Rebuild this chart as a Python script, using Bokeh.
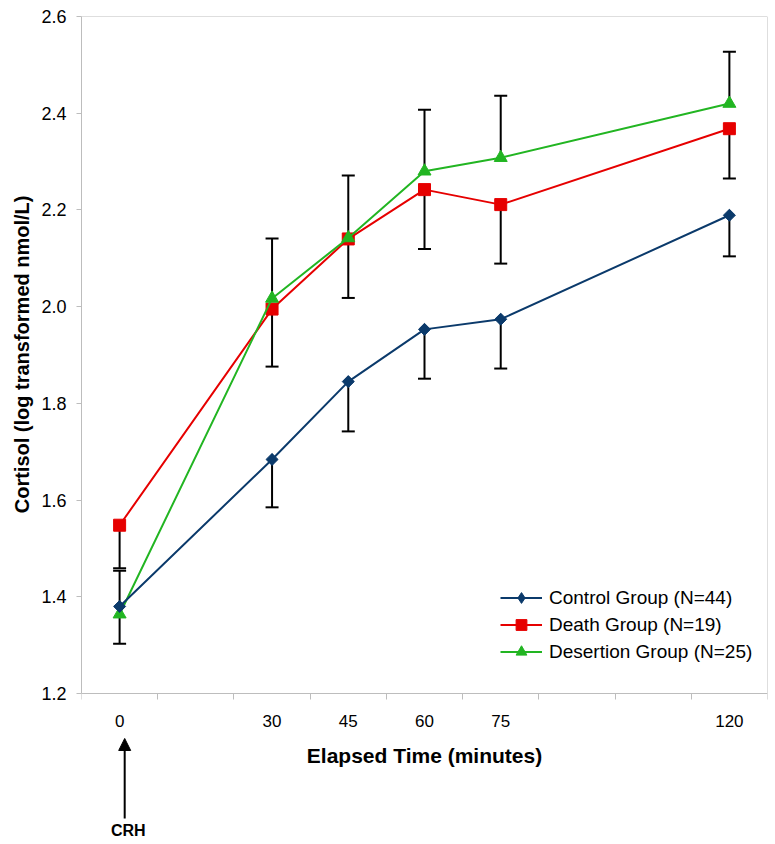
from bokeh.plotting import figure
from bokeh.models import (ColumnDataSource, Whisker, TeeHead, Arrow, NormalHead, Label, Title,
                          Legend, LegendItem, FixedTicker, PrintfTickFormatter, Range1d, LinearAxis)
from bokeh.embed import file_html
from bokeh.resources import INLINE
import numpy as np

# ---- data ----
time = [0, 30, 45, 60, 75, 120]
x_tick_labels = [0, 30, 45, 60, 75, 120]
x_minor = [-7.5, 7.5, 22.5, 37.5, 52.5, 67.5, 82.5, 97.5, 112.5, 127.5]
y_ticks = [1.2, 1.4, 1.6, 1.8, 2.0, 2.2, 2.4, 2.6]

control = [1.380, 1.684, 1.845, 1.953, 1.974, 2.189]
control_lower = [1.303, 1.585, 1.742, 1.851, 1.872, 2.104]

death = [1.548, 1.995, 2.140, 2.242, 2.211, 2.368]
death_lower = [1.459, 1.876, 2.018, 2.119, 2.089, 2.265]

desertion = [1.364, 2.017, 2.142, 2.280, 2.308, 2.420]
desertion_upper = [1.454, 2.141, 2.271, 2.407, 2.436, 2.527]

labels = ["Control Group (N=44)", "Death Group (N=19)", "Desertion Group (N=25)"]

BLUE = "#0b3a6b"
RED = "#e60000"
GREEN = "#22b522"
FONT = "Liberation Sans"
GRAY = "#bdbdbd"

X_MIN, X_MAX = -7.5, 127.5
Y_MIN, Y_MAX = 1.2, 2.6
# the frame continues below the y axis so that the CRH marker fits
FRAME_H, AXIS_H = 826, 677
Y_VIEW_MIN = Y_MAX - (Y_MAX - Y_MIN) * FRAME_H / AXIS_H

p = figure(width=770, height=842, output_backend="svg", toolbar_location=None,
           x_range=Range1d(X_MIN, X_MAX), y_range=Range1d(Y_VIEW_MIN, Y_MAX),
           min_border_left=81, min_border_top=16, min_border_right=3, min_border_bottom=0)
p.xgrid.visible = False
p.ygrid.visible = False
p.outline_line_color = None
p.background_fill_color = "white"
p.border_fill_color = "white"

# x axis placed at y = 1.2
xa = p.xaxis[0]
xa.fixed_location = Y_MIN
xa.ticker = FixedTicker(ticks=x_tick_labels, minor_ticks=x_minor)
xa.axis_line_color = GRAY
xa.major_tick_line_color = None
xa.major_tick_out = 0
xa.major_tick_in = 0
xa.minor_tick_line_color = GRAY
xa.minor_tick_out = 6
xa.minor_tick_in = 0
xa.major_label_standoff = 15
xa.major_label_text_font = FONT
xa.major_label_text_font_size = "17px"
xa.major_label_text_color = "black"
xa.axis_label = "Elapsed Time (minutes)"
xa.axis_label_text_font = FONT
xa.axis_label_text_font_size = "21px"
xa.axis_label_text_font_style = "bold"
xa.axis_label_text_color = "black"
xa.axis_label_standoff = 14

ya = p.yaxis[0]
ya.bounds = (Y_MIN, Y_MAX)
ya.ticker = FixedTicker(ticks=y_ticks)
ya.formatter = PrintfTickFormatter(format="%.1f")
ya.axis_line_color = GRAY
ya.major_tick_line_color = GRAY
ya.major_tick_out = 5
ya.major_tick_in = 0
ya.minor_tick_line_color = None
ya.major_label_standoff = 10
ya.major_label_text_font = FONT
ya.major_label_text_font_size = "18px"
ya.major_label_text_color = "black"

# y-axis title, centred on the 1.2-2.6 part of the axis
ytitle = Title(text="Cortisol (log transformed nmol/L)", align="right", offset=179,
               vertical_align="middle", text_font=FONT, text_font_size="20px",
               text_font_style="bold", text_color="black")
p.add_layout(ytitle, "left")

# plot-area border (top and right)
top_border = LinearAxis(fixed_location=Y_MAX, ticker=FixedTicker(ticks=[]),
                        axis_line_color=GRAY, major_tick_line_color=None,
                        minor_tick_line_color=None)
p.add_layout(top_border, "above")
right_border = LinearAxis(fixed_location=X_MAX, bounds=(Y_MIN, Y_MAX), ticker=FixedTicker(ticks=[]),
                          axis_line_color=GRAY, major_tick_line_color=None,
                          minor_tick_line_color=None)
p.add_layout(right_border, "right")

# error bars
src_c = ColumnDataSource(dict(x=time, y=control, lo=control_lower))
src_d = ColumnDataSource(dict(x=time, y=death, lo=death_lower))
src_g = ColumnDataSource(dict(x=time, y=desertion, hi=desertion_upper))

def tee():
    return TeeHead(size=13, line_width=2, line_color="black")

for src in (src_c, src_d):
    w = Whisker(source=src, base="x", upper="y", lower="lo", upper_head=None, lower_head=tee(),
                line_color="black", line_width=2, level="underlay")
    p.add_layout(w)
wg = Whisker(source=src_g, base="x", upper="hi", lower="y", upper_head=tee(), lower_head=None,
             line_color="black", line_width=2, level="underlay")
p.add_layout(wg)

# series
ld = p.line("x", "y", source=src_d, line_color=RED, line_width=2)
md = p.scatter("x", "y", source=src_d, marker="square", size=12, fill_color=RED, line_color=RED)
lg = p.line("x", "y", source=src_g, line_color=GREEN, line_width=2)
mg = p.scatter("x", "y", source=src_g, marker="triangle", size=13, fill_color=GREEN, line_color=GREEN)
lc = p.line("x", "y", source=src_c, line_color=BLUE, line_width=2)
# narrow diamond (shown in the legend) hidden under the rotated-square diamond of the plot
mc_leg = p.scatter("x", "y", source=src_c, marker="diamond", size=11, fill_color=BLUE, line_color=BLUE)
mc = p.scatter("x", "y", source=src_c, marker="square", angle=np.pi / 4, size=8.5,
               fill_color=BLUE, line_color=BLUE)

legend = Legend(items=[LegendItem(label=labels[0], renderers=[lc, mc_leg]),
                       LegendItem(label=labels[1], renderers=[ld, md]),
                       LegendItem(label=labels[2], renderers=[lg, mg])],
                location=(419, 177), glyph_width=42, glyph_height=27, label_height=27,
                spacing=0, padding=0, margin=0, label_standoff=7,
                label_text_font=FONT, label_text_font_size="19px", label_text_color="black",
                border_line_color=None, background_fill_alpha=0)
p.add_layout(legend)

# CRH arrow annotation below the axis
arrow = Arrow(end=NormalHead(size=12, fill_color="black", line_color="black"),
              x_start=1.0, y_start=0.9415, x_end=1.0, y_end=1.107,
              line_color="black", line_width=2)
p.add_layout(arrow)
crh = Label(x=1.7, y=0.9167, text="CRH", text_align="center", text_baseline="middle",
            text_font=FONT, text_font_size="16px", text_font_style="bold", text_color="black")
p.add_layout(crh)

open("out.html", "w").write(file_html(p, INLINE))
